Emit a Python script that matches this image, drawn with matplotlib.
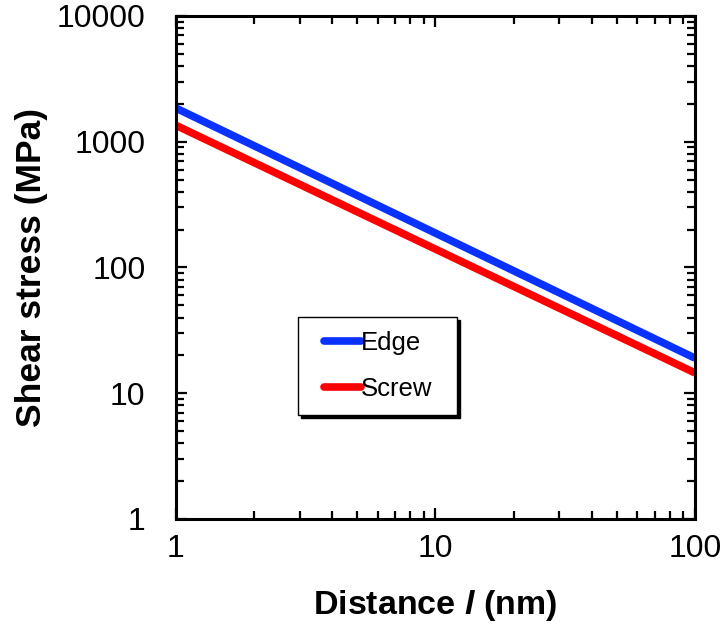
import matplotlib
matplotlib.use("Agg")
import matplotlib.pyplot as plt
from matplotlib.legend_handler import HandlerLine2D

plt.rcParams['font.family'] = ['Liberation Sans', 'DejaVu Sans']
plt.rcParams['mathtext.fontset'] = 'custom'
plt.rcParams['mathtext.it'] = 'Liberation Sans:italic:bold'
plt.rcParams['mathtext.rm'] = 'Liberation Sans:bold'

# Shear stress vs. distance (log-log)
distance_nm = [1, 100]
edge_mpa = [1850, 19]
screw_mpa = [1350, 14.5]
series_names = ["Edge", "Screw"]
y_ticks = [1, 10, 100, 1000, 10000]
x_ticks = [1, 10, 100]

fig = plt.figure(figsize=(7.24, 6.28), dpi=100)
ax = fig.add_axes([0.243, 0.1736, 0.717, 0.801])

ax.plot(distance_nm, edge_mpa, color='#0a32ff', lw=5.5, label=series_names[0],
        solid_capstyle='butt')
ax.plot(distance_nm, screw_mpa, color='#ff0000', lw=5.5, label=series_names[1],
        solid_capstyle='butt')

ax.set_xscale('log')
ax.set_yscale('log')
ax.set_xlim(1, 100)
ax.set_ylim(1, 10000)
ax.set_xticks(x_ticks)
ax.set_xticklabels([str(v) for v in x_ticks])
ax.set_yticks(y_ticks)
ax.set_yticklabels([str(v) for v in y_ticks])

for s in ax.spines.values():
    s.set_linewidth(2.2)

ax.tick_params(which='both', direction='in', top=True, right=True,
               labelsize=23, width=1.6)
ax.tick_params(axis='x', which='major', length=8, pad=11)
ax.tick_params(axis='y', which='major', length=8, pad=22)
ax.tick_params(which='minor', length=6)

ax.set_xlabel(r"Distance $\mathit{l}$ (nm)", fontsize=24.5, fontweight='bold',
              labelpad=17)
ax.set_ylabel("Shear stress (MPa)", fontsize=25.5, fontweight='bold', labelpad=6)

leg = ax.legend(loc='upper left', bbox_to_anchor=(0.235, 0.402, 0.306, 0),
                mode='expand', fontsize=18.5,
                frameon=True, fancybox=False, shadow={'color': 'black', 'alpha': 1.0},
                edgecolor='black', handlelength=1.9, handletextpad=0.0,
                borderpad=0.55, labelspacing=0.85, borderaxespad=0,
                handler_map={plt.Line2D: HandlerLine2D(xpad=0.45)})
leg.get_frame().set_linewidth(1.0)
for h in leg.get_lines():
    h.set_solid_capstyle('round')
    h.set_linewidth(5.5)

fig.savefig("out.png", dpi=100)
